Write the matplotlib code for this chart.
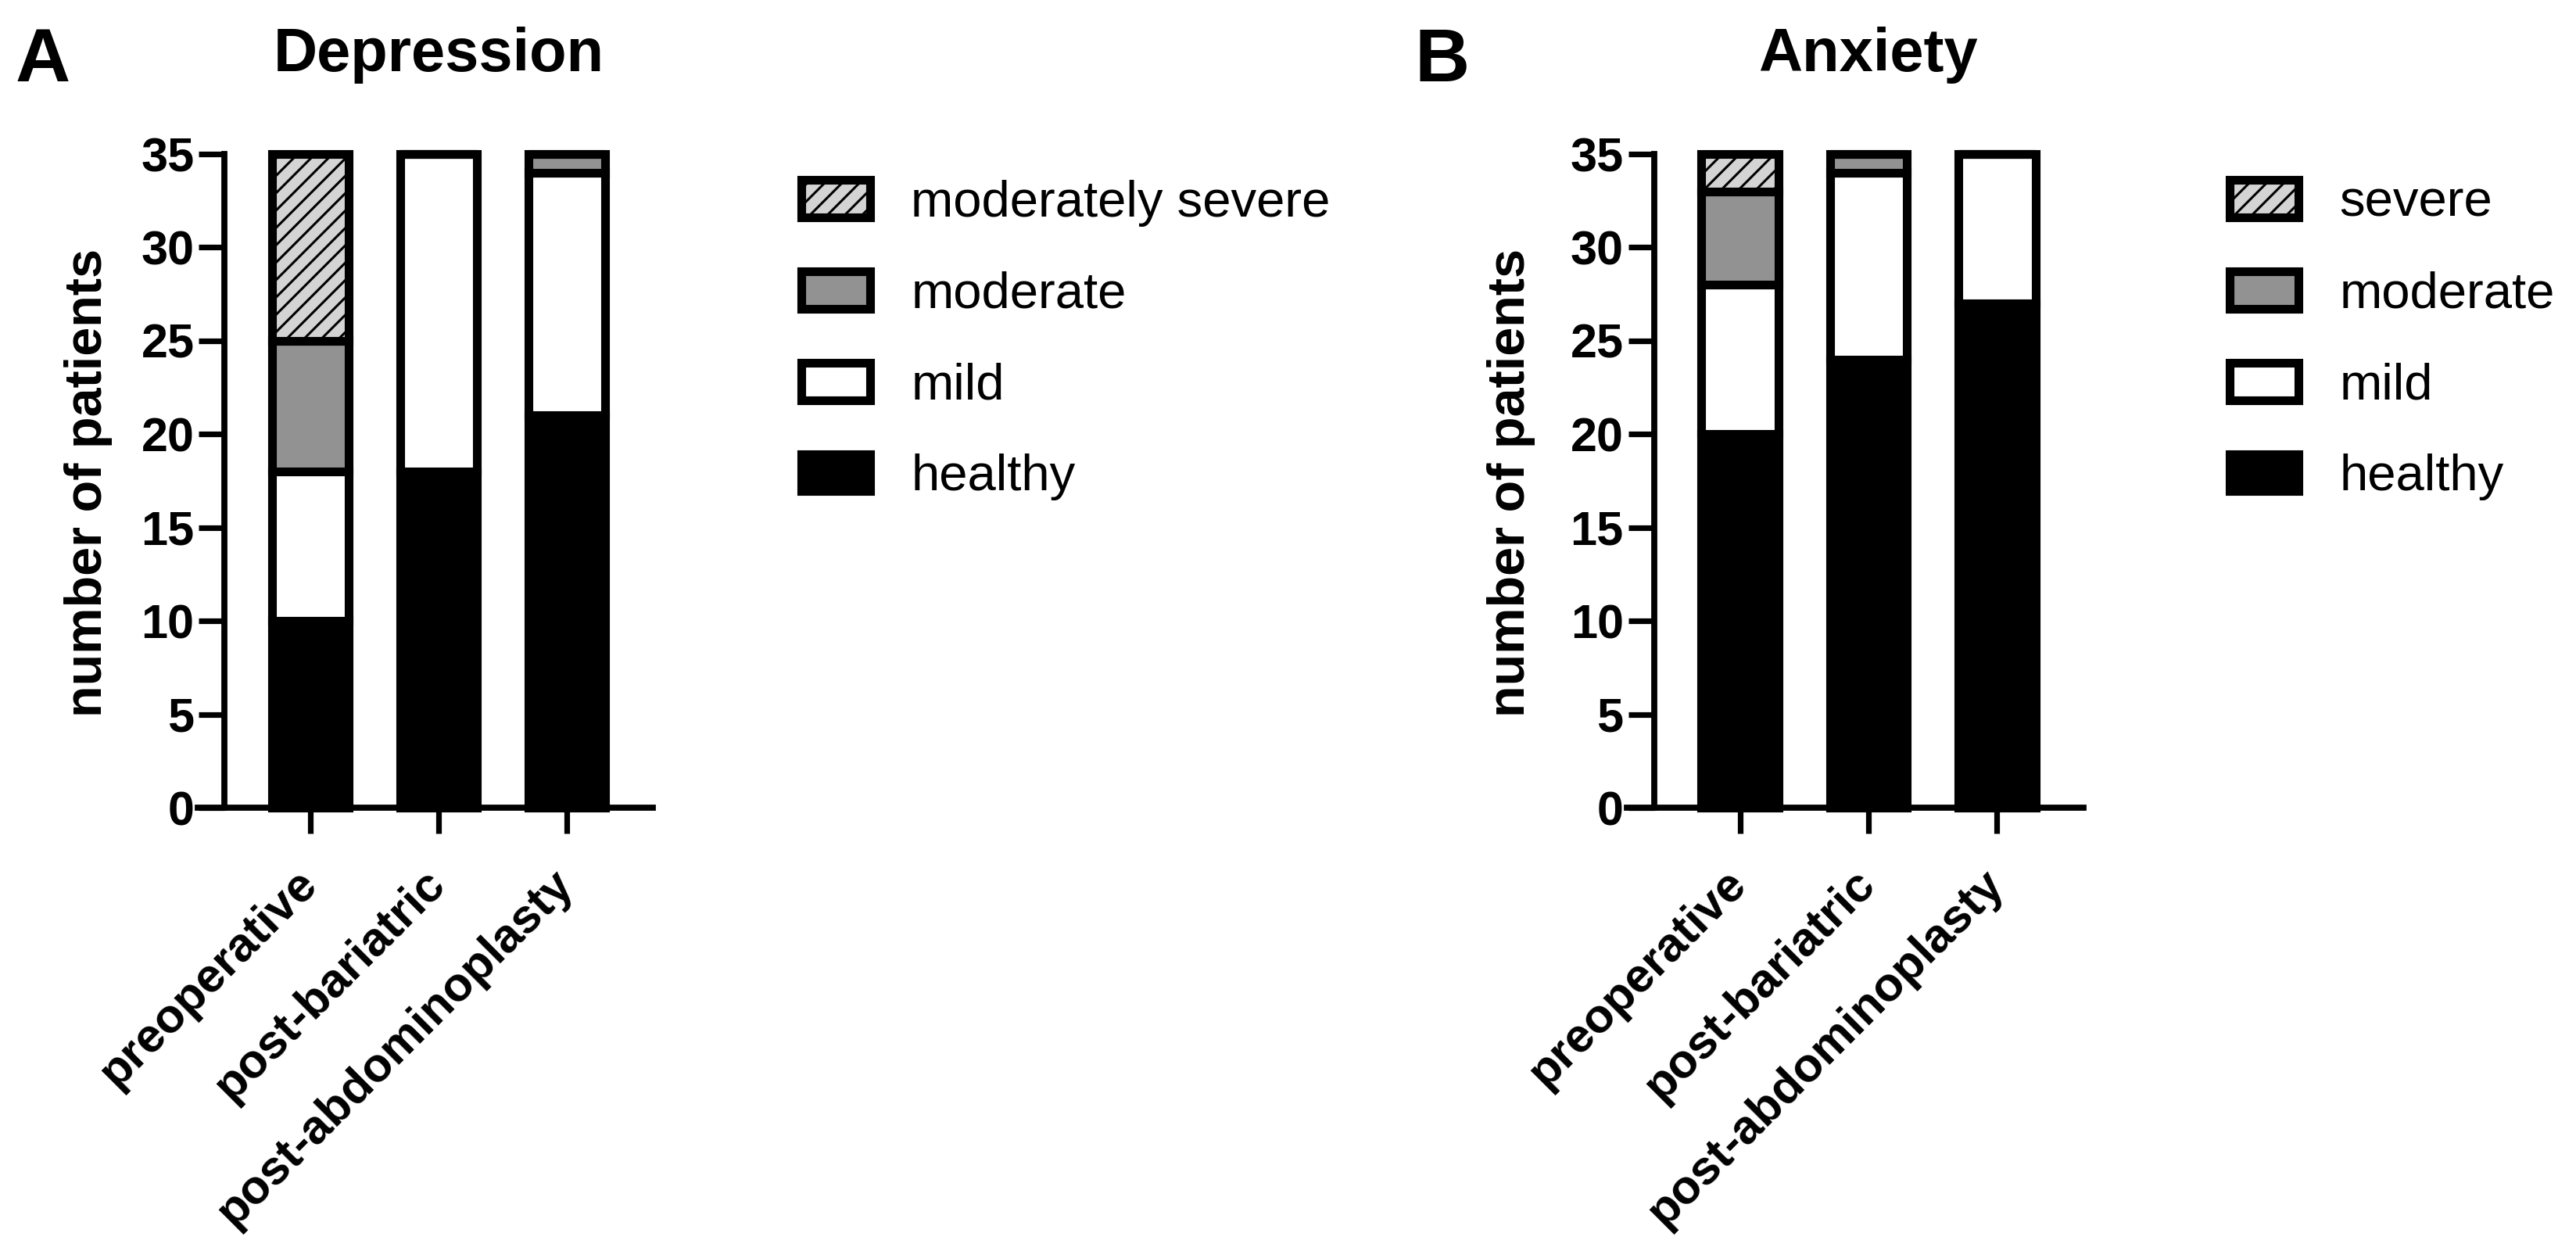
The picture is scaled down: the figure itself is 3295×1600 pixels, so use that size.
import numpy as np
import matplotlib
matplotlib.use("Agg")
import matplotlib.pyplot as plt
from matplotlib.patches import Patch

plt.rcParams['font.family'] = ['Liberation Sans', 'DejaVu Sans']
plt.rcParams['hatch.linewidth'] = 1.1

# data (number of patients per group)
groups = ["preoperative", "post-bariatric", "post-abdominoplasty"]

dep_levels = ["healthy", "mild", "moderate", "moderately severe"]
dep_healthy = [10, 18, 21]
dep_mild = [8, 17, 13]
dep_moderate = [7, 0, 1]
dep_modsevere = [10, 0, 0]

anx_levels = ["healthy", "mild", "moderate", "severe"]
anx_healthy = [20, 24, 27]
anx_mild = [8, 10, 8]
anx_moderate = [5, 1, 0]
anx_severe = [2, 0, 0]

yticks = [0, 5, 10, 15, 20, 25, 30, 35]

# segment styles, bottom to top
fills = ["black", "white", "#929292", "#d4d4d4"]
hatches = [None, None, None, "///"]

W, H, DPI = 3295, 1600, 200
EDGE = 4.0


def fig_rect(left, top, right, bottom):
    return [left / W, 1 - bottom / H, (right - left) / W, (bottom - top) / H]


def stacked(ax, series, levels, title, letter, letter_x, ylabel_x, legend_x):
    x = np.arange(len(groups))
    bottom = np.zeros(len(groups))
    handles = []
    for vals, lev, fc, ht in zip(series, levels, fills, hatches):
        vals = np.array(vals, dtype=float)
        ax.bar(x, vals, bottom=bottom, width=0.6, color=fc, edgecolor="black",
               linewidth=EDGE, hatch=ht, clip_on=False, zorder=1)
        bottom += vals
        handles.append(Patch(facecolor=fc, edgecolor="black", linewidth=EDGE,
                             hatch=ht, label=lev))

    # spine position first: moving a spine resets its ticks
    for s in ["top", "right"]:
        ax.spines[s].set_visible(False)
    ax.spines["left"].set_position(("data", -0.67))
    ax.spines["left"].set_linewidth(2.8)
    ax.spines["bottom"].set_linewidth(2.8)
    ax.spines["left"].set_zorder(3)
    ax.spines["bottom"].set_zorder(3)

    ax.set_xlim(-0.88, 2.673)
    ax.set_ylim(0, 35)
    ax.set_yticks(yticks)
    ax.set_yticklabels([str(t) for t in yticks], fontsize=22,
                       fontweight="bold")
    ax.set_xticks(x)
    ax.set_xticklabels(groups, rotation=45, ha="right", va="center",
                       rotation_mode="anchor", fontsize=22, fontweight="bold")
    ax.tick_params(axis="both", direction="out", length=12, width=2.6)
    ax.tick_params(axis="y", pad=2)
    ax.tick_params(axis="x", pad=20)

    ax.set_ylabel("number of patients", fontsize=24, fontweight="bold")
    ax.yaxis.set_label_coords(ylabel_x / W, 1 - 617 / H,
                              transform=ax.figure.transFigure)
    ax.yaxis.label.set_va("center")

    ax.set_title(title, fontsize=28, fontweight="bold", x=0.529, pad=38)
    ax.figure.text(letter_x / W, 1 - 104 / H, letter, fontsize=35,
                   fontweight="bold", ha="left", va="baseline")

    ax.legend(handles=handles[::-1], loc="center left",
              bbox_to_anchor=(legend_x / W, 1 - 435 / H),
              bbox_transform=ax.figure.transFigure, frameon=False,
              fontsize=23.5, handlelength=1.35, handleheight=0.75,
              handletextpad=0.8, labelspacing=0.87, borderpad=0,
              borderaxespad=0)


fig = plt.figure(figsize=(W / DPI, H / DPI), dpi=DPI)
axA = fig.add_axes(fig_rect(253, 197, 835, 1033))
axB = fig.add_axes(fig_rect(2081, 197, 2665, 1033))

stacked(axA, [dep_healthy, dep_mild, dep_moderate, dep_modsevere], dep_levels,
        "Depression", "A", 20, 113, 1025)
stacked(axB, [anx_healthy, anx_mild, anx_moderate, anx_severe], anx_levels,
        "Anxiety", "B", 1810, 1933, 2852)

fig.savefig("out.png", dpi=DPI)
